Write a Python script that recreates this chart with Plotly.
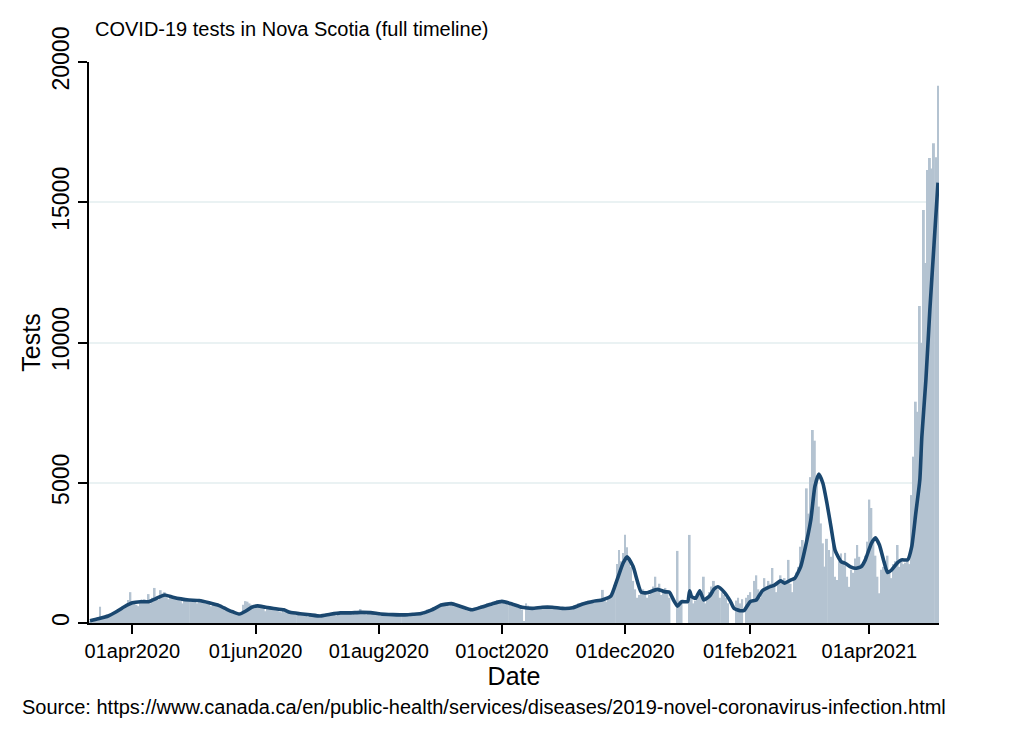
import pandas as pd
import plotly.graph_objects as go

# ---- daily tests (bars), 2020-03-11 .. 2021-05-05 ----
mar20 = [60, 80, 90, 120, 150, 580, 200, 180, 230, 260, 300, 280, 350, 380, 420, 500, 600, 560, 650, 820, 1100]
apr20 = [700, 780, 650, 600, 720, 800, 850, 760, 1030, 700, 900, 1250, 950, 820, 1170, 1050, 1100, 950, 850, 900,
         960, 880, 900, 850, 780, 700, 820, 850, 780, 760]
may20 = [820, 780, 700, 760, 850, 780, 800, 720, 680, 600, 700, 680, 620, 640, 600, 520, 450, 480, 420, 380,
         340, 320, 300, 280, 300, 650, 780, 760, 700, 650, 620]
jun20 = [600, 650, 580, 550, 520, 420, 500, 560, 540, 480, 500, 470, 400, 380, 450, 480, 430, 380, 360, 320,
         300, 380, 350, 320, 300, 280, 220, 250, 300, 280]
jul20 = [260, 240, 200, 220, 300, 330, 350, 300, 320, 280, 250, 380, 400, 390, 370, 360, 350, 330, 290, 380,
         400, 390, 500, 360, 320, 300, 380, 400, 370, 350, 340]
aug20 = [300, 250, 320, 340, 330, 310, 300, 280, 260, 300, 310, 320, 300, 280, 260, 240, 310, 340, 350, 360,
         380, 330, 300, 420, 480, 500, 520, 560, 480, 520, 620]
sep20 = [700, 680, 720, 650, 600, 700, 750, 680, 620, 560, 540, 520, 480, 450, 420, 480, 500, 520, 560, 600,
         620, 650, 640, 700, 720, 680, 650, 760, 820, 780]
oct20 = [820, 760, 700, 640, 680, 720, 600, 580, 560, 540, 480, 60, 700, 620, 560, 520, 500, 540, 560, 580,
         600, 560, 540, 520, 580, 600, 560, 540, 520, 500, 480]
nov20 = [480, 500, 520, 560, 500, 620, 650, 700, 680, 720, 700, 760, 800, 750, 780, 820, 760, 800, 850, 1180,
         800, 760, 900, 950, 1000, 1350, 2100, 2600, 2200, 2500]
dec20 = [3150, 2700, 2300, 2000, 1500, 1200, 900, 1000, 1100, 1200, 1050, 900, 1000, 1100, 1300, 1650, 1200, 1400,
         1000, 1100, 1250, 1100, 900, 0, 0, 0, 2570, 800, 750, 0, 0]
jan21 = [0, 3140, 900, 700, 800, 1000, 1100, 900, 1650, 700, 900, 1100, 1300, 1500, 1250, 1200, 900, 1100, 1000,
         900, 700, 0, 0, 0, 800, 900, 700, 850, 0, 900, 1000]
feb21 = [1100, 800, 1500, 1700, 1200, 900, 1100, 1600, 1300, 1500, 1400, 1960, 1300, 1100, 1500, 1700, 1400, 1600,
         1500, 2250, 1400, 1100, 1600, 1800, 2000, 2720, 2960, 2500]
mar21 = [4800, 3900, 5200, 6880, 6500, 5100, 4150, 3550, 2840, 2010, 3000, 2600, 2360, 2900, 1650, 1530, 2200, 2480,
         2190, 2500, 1650, 1290, 1900, 1790, 2300, 2780, 2360, 2100, 2010, 2400, 2900]
apr21 = [4400, 4100, 2900, 2400, 1650, 1060, 1900, 2000, 2200, 2400, 1800, 1600, 2100, 2200, 2780, 2000, 2300, 2100,
         2150, 2200, 2100, 4560, 5930, 7890, 7530, 11300, 9980, 14720, 12830, 16150]
may21 = [16580, 16200, 17100, 16600, 19150]

tests = (mar20 + apr20 + may20 + jun20 + jul20 + aug20 + sep20 + oct20 + nov20 + dec20
         + jan21 + feb21 + mar21 + apr21 + may21)
dates = pd.date_range("2020-03-11", periods=len(tests), freq="D")

# ---- smoothed line ----
line_dates = [
    "2020-03-11", "2020-03-15", "2020-03-20", "2020-03-24", "2020-03-28", "2020-04-01", "2020-04-05", "2020-04-09",
    "2020-04-13", "2020-04-17", "2020-04-21", "2020-04-25", "2020-04-29", "2020-05-04", "2020-05-09", "2020-05-14",
    "2020-05-18", "2020-05-21", "2020-05-24", "2020-05-27", "2020-05-30", "2020-06-02", "2020-06-06", "2020-06-10",
    "2020-06-15", "2020-06-18", "2020-06-23", "2020-06-28", "2020-07-03", "2020-07-08", "2020-07-13", "2020-07-18",
    "2020-07-23", "2020-07-28", "2020-08-02", "2020-08-08", "2020-08-14", "2020-08-18", "2020-08-22", "2020-08-27",
    "2020-09-01", "2020-09-06", "2020-09-11", "2020-09-16", "2020-09-21", "2020-09-26", "2020-10-01", "2020-10-06",
    "2020-10-11", "2020-10-16", "2020-10-21", "2020-10-26", "2020-10-31", "2020-11-05", "2020-11-10", "2020-11-15",
    "2020-11-20", "2020-11-24", "2020-11-27", "2020-11-30", "2020-12-02", "2020-12-05", "2020-12-09", "2020-12-12",
    "2020-12-17", "2020-12-21", "2020-12-23", "2020-12-25", "2020-12-27", "2020-12-29", "2021-01-01", "2021-01-02",
    "2021-01-03", "2021-01-05", "2021-01-07", "2021-01-09", "2021-01-12", "2021-01-14", "2021-01-16", "2021-01-19",
    "2021-01-22", "2021-01-24", "2021-01-27", "2021-01-29", "2021-02-01", "2021-02-04", "2021-02-07", "2021-02-10",
    "2021-02-13", "2021-02-16", "2021-02-18", "2021-02-21", "2021-02-23", "2021-02-26", "2021-02-28", "2021-03-03",
    "2021-03-05", "2021-03-07", "2021-03-09", "2021-03-11", "2021-03-13", "2021-03-15", "2021-03-18", "2021-03-20",
    "2021-03-23", "2021-03-25", "2021-03-28", "2021-03-30", "2021-04-02", "2021-04-04", "2021-04-06", "2021-04-08",
    "2021-04-10", "2021-04-12", "2021-04-15", "2021-04-17", "2021-04-20", "2021-04-22", "2021-04-24", "2021-04-26",
    "2021-04-27", "2021-04-29", "2021-05-01", "2021-05-03", "2021-05-05",
]
line_vals = [
    80, 150, 250, 400, 580, 720, 760, 760,
    880, 1000, 920, 860, 820, 800, 720, 620,
    480, 390, 320, 420, 560, 610, 560, 520,
    470, 380, 330, 290, 250, 310, 360, 360,
    380, 370, 320, 300, 290, 310, 340, 460,
    640, 690, 580, 470, 570, 680, 770, 680,
    560, 520, 560, 560, 520, 540, 680, 770,
    830, 960, 1530, 2130, 2360, 2010, 1100, 1080,
    1200, 1110, 1100, 820, 600, 760, 760, 1150,
    940, 880, 1150, 820, 970, 1200, 1290, 1110,
    800, 520, 440, 450, 760, 820, 1150, 1270,
    1350, 1500, 1420, 1530, 1590, 2010, 2600, 3670,
    4860, 5310, 4980, 4270, 3430, 2600, 2190, 2130,
    1990, 1950, 2010, 2250, 2840, 3040, 2780, 2250,
    1800, 1890, 2150, 2250, 2250, 2720, 3910, 5100,
    6640, 8660, 11200, 13450, 15700,
]

tick_vals = ["2020-04-01", "2020-06-01", "2020-08-01", "2020-10-01", "2020-12-01", "2021-02-01", "2021-04-01"]
tick_text = ["01apr2020", "01jun2020", "01aug2020", "01oct2020", "01dec2020", "01feb2021", "01apr2021"]
y_ticks = [0, 5000, 10000, 15000, 20000]
y_tick_text = ["0", "5000", "10000", "15000", "20000"]

FONT = "Liberation Sans, Arial, sans-serif"

fig = go.Figure()
fig.add_trace(go.Bar(x=dates, y=tests, marker=dict(color="#b4c3d1", line=dict(width=0)), name="Tests"))
fig.add_trace(go.Scatter(x=line_dates, y=line_vals, mode="lines", name="Average",
                         line=dict(color="#1a476f", width=3.6, shape="spline", smoothing=0.5)))

fig.update_layout(
    width=1013, height=737,
    margin=dict(l=89, r=74, t=62, b=114),
    paper_bgcolor="white", plot_bgcolor="white",
    showlegend=False, bargap=0.05,
    font=dict(family=FONT, color="black"),
    title=dict(text="COVID-19 tests in Nova Scotia (full timeline)", xref="container", yref="container",
               x=95 / 1013, xanchor="left", y=1 - 29 / 737, yanchor="middle",
               font=dict(family=FONT, size=20, color="black")),
    xaxis=dict(type="date", range=["2020-03-10 12:00", "2021-05-05 12:00"],
               tickvals=tick_vals, ticktext=tick_text, ticks="outside", ticklen=9, tickwidth=1.5,
               tickcolor="black", showline=True, linecolor="black", linewidth=1.5, showgrid=False,
               zeroline=False, tickfont=dict(size=20, family=FONT, color="black"),
               title=dict(text="Date", font=dict(size=25, family=FONT, color="black"), standoff=0)),
    yaxis=dict(range=[0, 20000], tickvals=y_ticks, ticktext=y_tick_text, tickangle=-90, ticks="outside",
               ticklen=9, tickwidth=1.5,
               tickcolor="black", showline=True, linecolor="black", linewidth=1.5, showgrid=True,
               gridcolor="#eaf2f3", gridwidth=1.5, zeroline=False,
               tickfont=dict(size=23, family=FONT, color="black"),
               title=dict(text="Tests", font=dict(size=25, family=FONT, color="black"), standoff=0)),
    annotations=[dict(text="Source: https://www.canada.ca/en/public-health/services/diseases/2019-novel-coronavirus-infection.html",
                      xref="paper", yref="paper", x=(20 - 89) / 849.6, y=(623 - 707) / 561,
                      xanchor="left", yanchor="middle", showarrow=False,
                      font=dict(size=20, family=FONT, color="black"))],
)

fig.write_html("out.html")
